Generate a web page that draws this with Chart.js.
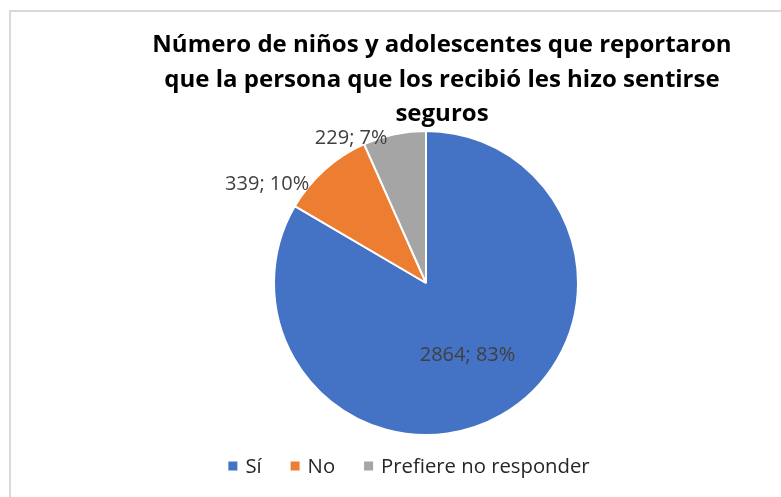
<!DOCTYPE html>
<html>
<head>
<meta charset="utf-8">
<script src="https://cdn.jsdelivr.net/npm/chart.js@4/dist/chart.umd.min.js"></script>
<style>
  html, body { margin: 0; padding: 0; background: #ffffff; }
  #wrap { position: relative; width: 781px; height: 497px; }
  canvas { display: block; }
</style>
</head>
<body>
<div id="wrap"><canvas id="c" width="781" height="497"></canvas></div>
<script>
const titleLines = [
  'Número de niños y adolescentes que reportaron',
  'que la persona que los recibió les hizo sentirse',
  'seguros'
];
const categories = ['Sí', 'No', 'Prefiere no responder'];
const values = [2864, 339, 229];
const colors = ['#4472C4', '#ED7D31', '#A5A5A5'];

const TEXT_FONT = '"Open Sans", Lato, sans-serif';

const framePlugin = {
  id: 'frame',
  beforeDraw(chart) {
    const ctx = chart.ctx;
    ctx.save();
    ctx.fillStyle = '#ffffff';
    ctx.fillRect(0, 0, chart.width, chart.height);
    ctx.strokeStyle = '#d9d9d9';
    ctx.lineWidth = 2;
    ctx.strokeRect(10, 11, chart.width + 20, chart.height + 20);
    ctx.restore();
  }
};

const titlePlugin = {
  id: 'customTitle',
  afterDraw(chart, args, opts) {
    const ctx = chart.ctx;
    ctx.save();
    ctx.fillStyle = '#000000';
    ctx.font = 'bold ' + opts.size + 'px ' + TEXT_FONT;
    ctx.textAlign = 'center';
    ctx.textBaseline = 'alphabetic';
    titleLines.forEach((line, i) => {
      ctx.fillText(line, opts.x, opts.y + i * opts.lineHeight);
    });
    ctx.restore();
  }
};

const legendPlugin = {
  id: 'customLegend',
  afterDraw(chart, args, opts) {
    const ctx = chart.ctx;
    ctx.save();
    ctx.font = opts.size + 'px ' + TEXT_FONT;
    ctx.textBaseline = 'middle';
    ctx.textAlign = 'left';
    const widths = categories.map(c => ctx.measureText(c).width);
    const box = opts.box, gap = opts.gap, itemGap = opts.itemGap;
    let total = 0;
    widths.forEach((w, i) => { total += box + gap + w + (i < widths.length - 1 ? itemGap : 0); });
    let x = opts.cx - total / 2;
    const y = opts.y;
    categories.forEach((c, i) => {
      ctx.fillStyle = colors[i];
      ctx.fillRect(x, y - box / 2, box, box);
      ctx.fillStyle = '#262626';
      ctx.fillText(c, x + box + gap, y + 1);
      x += box + gap + widths[i] + itemGap;
    });
    ctx.restore();
  }
};

const labelPlugin = {
  id: 'sliceLabels',
  afterDatasetsDraw(chart, args, opts) {
    const ctx = chart.ctx;
    const meta = chart.getDatasetMeta(0);
    const data = chart.data.datasets[0].data;
    const total = data.reduce((a, b) => a + b, 0);
    ctx.save();
    ctx.font = opts.size + 'px ' + TEXT_FONT;
    ctx.fillStyle = '#404040';
    ctx.textAlign = 'center';
    ctx.textBaseline = 'middle';
    meta.data.forEach((arc, i) => {
      const p = arc.getProps(['x', 'y', 'startAngle', 'endAngle', 'outerRadius'], true);
      const place = opts.placement[i];
      const a = p.startAngle + (p.endAngle - p.startAngle) * place.f;
      const d = p.outerRadius * place.d;
      const tx = p.x + Math.cos(a) * d;
      const ty = p.y + Math.sin(a) * d;
      const pct = Math.round(data[i] / total * 100);
      ctx.fillText(data[i] + '; ' + pct + '%', tx, ty);
    });
    ctx.restore();
  }
};

new Chart(document.getElementById('c'), {
  type: 'pie',
  data: {
    labels: categories,
    datasets: [{
      data: values,
      backgroundColor: colors,
      borderColor: '#ffffff',
      borderWidth: 2
    }]
  },
  options: {
    responsive: false,
    animation: false,
    layout: { padding: { left: 273, right: 202, top: 130, bottom: 61 } },
    plugins: {
      legend: { display: false },
      title: { display: false },
      tooltip: { enabled: false },
      customTitle: { size: 24, x: 442, y: 52, lineHeight: 34.5 },
      customLegend: { size: 20.3, cx: 409, y: 466, box: 9, gap: 8, itemGap: 29 },
      sliceLabels: {
        size: 20,
        placement: [
          { f: 0.5, d: 0.55 },
          { f: 0.04, d: 1.23 },
          { f: -0.14, d: 1.07 }
        ]
      }
    }
  },
  plugins: [framePlugin, titlePlugin, legendPlugin, labelPlugin]
});
</script>
</body>
</html>
